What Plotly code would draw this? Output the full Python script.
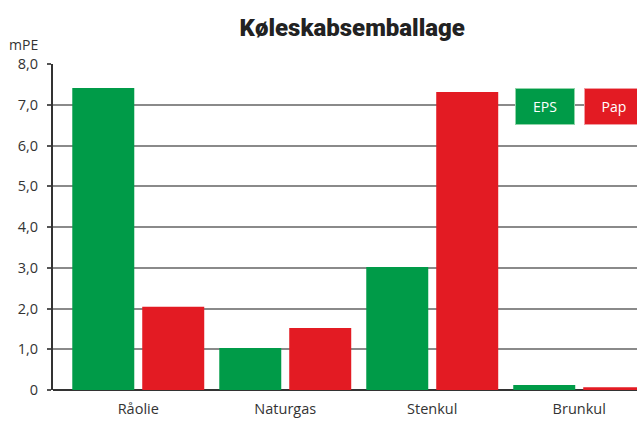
import plotly.graph_objects as go

categories = ["Råolie", "Naturgas", "Stenkul", "Brunkul"]
eps_values = [7.41, 1.03, 3.02, 0.12]
pap_values = [2.04, 1.52, 7.31, 0.07]
series_names = ["EPS", "Pap"]
y_tick_vals = [0, 1, 2, 3, 4, 5, 6, 7, 8]
y_tick_text = ["0", "1,0", "2,0", "3,0", "4,0", "5,0", "6,0", "7,0", "8,0"]
title_text = "Køleskabsemballage"
unit_text = "mPE"

GREEN = "#009B48"
RED = "#E31B23"
FONT = "Open Sans, Noto Sans, sans-serif"

fig = go.Figure()
fig.add_trace(go.Bar(x=categories, y=eps_values, name=series_names[0],
                     marker=dict(color=GREEN, line=dict(width=0))))
fig.add_trace(go.Bar(x=categories, y=pap_values, name=series_names[1],
                     marker=dict(color=RED, line=dict(width=0))))

fig.update_layout(
    width=637, height=438,
    margin=dict(l=53, r=0, t=64, b=48),
    plot_bgcolor="white", paper_bgcolor="white",
    showlegend=False,
    barmode="group", bargap=0.048, bargroupgap=0.114,
    font=dict(family=FONT, color="#333333", size=13),
    title=dict(text=title_text, x=0.553, xref="container", xanchor="center",
               y=1 - 28 / 438, yref="container", yanchor="middle",
               font=dict(family="Roboto, Open Sans, sans-serif", size=24,
                         color="#222222", weight=900)),
)

fig.update_xaxes(range=[-0.58, 3.393], showgrid=False, ticks="",
                 showline=False, zeroline=False,
                 tickfont=dict(size=14.5, color="#333333"), ticklabelstandoff=8)
fig.update_yaxes(range=[0, 8], tickvals=y_tick_vals, ticktext=y_tick_text,
                 showgrid=True, gridcolor="#8a8a8a", gridwidth=1.5,
                 zeroline=True, zerolinecolor="#333333", zerolinewidth=2,
                 showline=True, linecolor="#333333", linewidth=2,
                 ticks="outside", ticklen=4, tickcolor="#555555", tickwidth=1.5,
                 tickfont=dict(size=14.5, color="#333333"), ticklabelstandoff=6)

fig.add_annotation(text=unit_text, xref="paper", x=-0.022, xanchor="right",
                   yref="paper", y=1.0, yanchor="bottom", yshift=8,
                   showarrow=False, font=dict(size=14, color="#333333"))

# legend boxes
fig.add_annotation(text=series_names[0], xref="x", x=2.767, yref="y", y=6.96,
                   showarrow=False, bgcolor=GREEN, bordercolor="#8fd4a8",
                   borderwidth=1, borderpad=1, width=56, height=33,
                   font=dict(size=14, color="white"))
fig.add_annotation(text=series_names[1], xref="x", x=3.236, yref="y", y=6.96,
                   showarrow=False, bgcolor=RED, bordercolor="#f29aa0",
                   borderwidth=1, borderpad=1, width=56, height=33,
                   font=dict(size=14, color="white"))

fig.write_html("out.html", config={"displayModeBar": False},
               post_script="document.body.style.margin='0';document.body.style.overflow='hidden';")
